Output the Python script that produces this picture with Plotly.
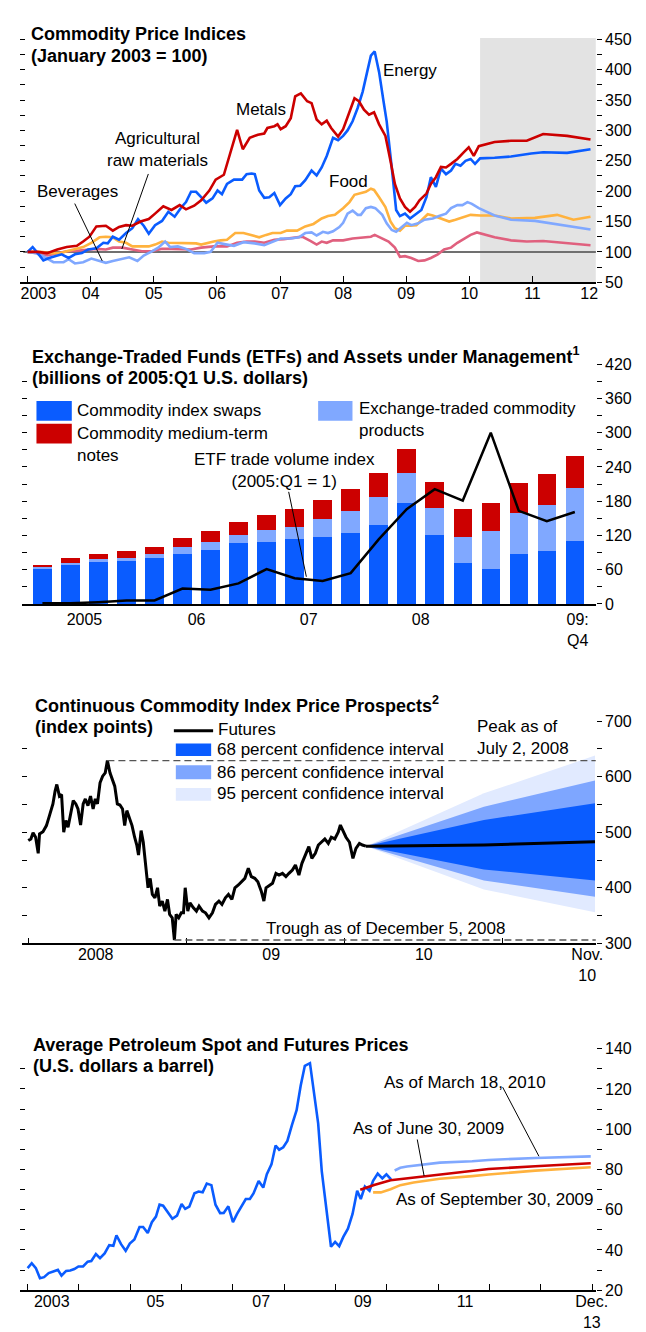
import plotly.graph_objects as go

W, H = 646, 1332
FONT = "Liberation Sans"
BLUE = "#0a5cff"
LBLUE = "#80a8ff"
RED = "#cc0000"
ORANGE = "#ffb23e"
PINK = "#e0607e"
FAN68 = "#0a5cff"
FAN86 = "#7ea6ff"
FAN95 = "#e1eaff"

# ---------------- Panel 1: Commodity price indices ----------------
metals_x = [2003.00,2003.16,2003.31,2003.47,2003.62,2003.78,2003.88,2003.98,2004.09,2004.24,2004.35,2004.45,2004.56,2004.66,2004.79,2004.92,2005.02,2005.15,2005.28,2005.41,2005.51,2005.64,2005.75,2005.88,2005.98,2006.11,2006.32,2006.41,2006.52,2006.65,2006.75,2006.80,2006.91,2006.96,2007.01,2007.09,2007.17,2007.24,2007.33,2007.43,2007.50,2007.58,2007.66,2007.74,2007.81,2007.92,2008.00,2008.10,2008.18,2008.25,2008.33,2008.41,2008.49,2008.57,2008.67,2008.75,2008.82,2008.90,2008.98,2009.06,2009.14,2009.21,2009.32,2009.39,2009.47,2009.55,2009.63,2009.71,2009.81,2009.91,2009.99,2010.07,2010.15,2010.40,2010.66,2010.91,2011.17,2011.55,2011.92]
metals_y = [100,100,98,104,108,110,117,125,142,143,135,141,144,143,150,154,163,175,169,177,170,176,185,201,219,227,301,269,288,293,295,304,307,310,302,307,320,356,361,348,345,318,310,316,304,290,302,331,353,348,334,326,330,310,291,250,212,188,174,166,174,185,196,212,223,240,239,245,253,264,272,258,274,281,283,283,294,291,285]

energy_x = [2003.00,2003.08,2003.16,2003.25,2003.34,2003.44,2003.54,2003.65,2003.75,2003.86,2003.96,2004.09,2004.20,2004.27,2004.35,2004.45,2004.56,2004.66,2004.75,2004.84,2004.92,2005.02,2005.13,2005.23,2005.33,2005.44,2005.51,2005.59,2005.67,2005.75,2005.83,2005.93,2006.01,2006.08,2006.16,2006.27,2006.40,2006.47,2006.55,2006.60,2006.67,2006.75,2006.83,2006.91,2007.00,2007.09,2007.17,2007.24,2007.32,2007.40,2007.50,2007.58,2007.66,2007.74,2007.84,2007.92,2008.00,2008.07,2008.15,2008.23,2008.31,2008.38,2008.44,2008.50,2008.57,2008.64,2008.69,2008.77,2008.84,2008.90,2008.98,2009.06,2009.14,2009.24,2009.32,2009.39,2009.47,2009.55,2009.63,2009.71,2009.78,2009.86,2009.94,2010.02,2010.09,2010.17,2010.40,2010.66,2010.98,2011.17,2011.55,2011.92]
energy_y = [100,108,98,86,90,93,96,90,96,98,104,106,115,114,125,120,131,139,154,143,130,144,151,166,158,174,182,199,199,190,181,188,201,195,212,219,219,228,229,228,201,189,190,197,177,188,195,208,209,218,234,226,239,258,288,284,291,300,315,337,364,396,423,430,396,348,315,239,169,159,163,155,161,169,190,223,207,237,228,234,245,242,250,253,245,254,255,257,262,264,263,269]

food_x = [2003.00,2003.21,2003.36,2003.52,2003.62,2003.75,2003.88,2004.01,2004.14,2004.24,2004.35,2004.45,2004.56,2004.66,2004.79,2004.92,2005.02,2005.13,2005.23,2005.38,2005.54,2005.67,2005.75,2005.85,2005.95,2006.06,2006.16,2006.29,2006.42,2006.54,2006.67,2006.78,2006.88,2007.01,2007.11,2007.27,2007.40,2007.53,2007.66,2007.76,2007.87,2008.00,2008.10,2008.18,2008.25,2008.36,2008.44,2008.49,2008.57,2008.67,2008.75,2008.82,2008.90,2008.98,2009.06,2009.16,2009.27,2009.34,2009.42,2009.55,2009.68,2009.78,2009.91,2010.02,2010.17,2010.40,2010.66,2011.04,2011.39,2011.65,2011.92]
food_y = [100,100,98,98,101,104,108,115,124,125,124,117,115,109,109,109,112,117,115,115,115,114,112,115,117,119,120,131,131,128,124,128,131,131,135,135,142,146,155,159,161,172,182,194,196,199,204,202,190,174,150,139,135,143,143,144,155,162,160,155,150,153,158,161,160,160,155,156,161,153,158]

agri_x = [2003.00,2003.13,2003.26,2003.41,2003.57,2003.65,2003.75,2003.88,2004.01,2004.14,2004.24,2004.35,2004.50,2004.61,2004.74,2004.84,2004.97,2005.07,2005.18,2005.26,2005.38,2005.51,2005.64,2005.80,2005.90,2006.01,2006.16,2006.27,2006.42,2006.60,2006.75,2006.88,2007.01,2007.17,2007.30,2007.40,2007.50,2007.58,2007.68,2007.76,2007.84,2007.94,2008.00,2008.07,2008.15,2008.23,2008.28,2008.36,2008.44,2008.51,2008.62,2008.69,2008.77,2008.84,2008.93,2009.01,2009.08,2009.19,2009.29,2009.42,2009.52,2009.63,2009.71,2009.81,2009.89,2009.97,2010.04,2010.15,2010.40,2010.66,2011.04,2011.55,2011.92]
agri_y = [100,98,92,83,83,88,81,83,89,85,82,85,88,91,85,94,101,107,117,108,109,105,98,98,100,115,112,110,116,114,111,117,122,122,124,131,132,127,133,131,134,141,148,163,168,161,161,172,174,172,161,147,136,133,141,148,144,147,153,155,159,163,172,177,177,182,179,172,160,153,151,143,137]

bev_x = [2003.00,2003.16,2003.31,2003.47,2003.62,2003.78,2003.93,2004.09,2004.24,2004.35,2004.50,2004.66,2004.81,2004.97,2005.13,2005.28,2005.44,2005.59,2005.75,2005.95,2006.16,2006.32,2006.47,2006.60,2006.75,2006.91,2007.06,2007.22,2007.35,2007.48,2007.58,2007.66,2007.74,2007.84,2008.00,2008.15,2008.31,2008.44,2008.50,2008.59,2008.72,2008.82,2008.90,2008.98,2009.08,2009.19,2009.29,2009.39,2009.50,2009.60,2009.71,2009.81,2009.91,2010.02,2010.12,2010.22,2010.40,2010.66,2010.91,2011.17,2011.55,2011.92]
bev_y = [100,98,94,98,101,102,104,105,104,107,107,104,101,101,105,105,104,104,107,109,109,115,117,117,115,120,121,123,125,118,112,117,115,119,119,122,124,125,128,124,117,107,92,93,90,85,86,90,96,104,107,115,121,128,132,129,124,119,117,118,115,111]

p1_year_ticks = [2003, 2004, 2005, 2006, 2007, 2008, 2009, 2010, 2011, 2012]
p1_label_pos = [2003.17, 2004, 2005, 2006, 2007, 2008, 2009, 2010, 2011, 2011.9]
p1_labels = ["2003", "04", "05", "06", "07", "08", "09", "10", "11", "12"]
p1_forecast_start = 2010.17
p1_base = 100

# ---------------- Panel 2: ETFs and AUM ----------------
quarters = list(range(20))
swaps = [61,69,73,75,80,87,94,106,109,114,118,125,139,177,120,71,62,87,92,111]
etp = [3,3,5,6,8,12,14,15,21,21,31,38,48,52,48,47,65,72,81,92]
mtn = [5,8,9,11,12,17,20,23,26,31,33,38,42,43,45,48,50,52,54,57]
etf_volume = [1,1,3,6,6,27,25,36,61,45,40,54,113,166,201,181,300,163,145,161]
p2_label_pos = [1.5, 5.5, 9.5, 13.5, 19.1]
p2_labels = ["2005", "06", "07", "08", "09:<br>Q4"]

# ---------------- Panel 3: CCI price prospects (days since 1 Jan 2008) ----------------
hist_day = [0,6,11,17,23,26,34,42,49,57,62,66,72,77,82,87,92,98,104,110,115,121,127,132,138,144,150,155,160,166,
            172,178,183,189,195,200,206,212,218,223,228,234,240,246,251,255,261,266,272,277,282,287,293,299,304,310,316,322,327,333,
            338,342,348,354,359,363,369,374,382,389,
            395,403,410,418,426,433,441,448,456,463,471,478,486,494,501,509,516,524,531,539,
            545,550,558,565,573,580,588,596,603,611,618,626,633,641,649,656,664,671,679,686,
            694,701,709,717,722,728,735,743,751,758,766,773,781]
hist_val = [485,488,499,491,462,497,501,512,530,551,574,586,565,568,500,521,509,530,557,551,542,513,551,560,548,565,542,560,551,589,
            601,607,629,607,592,583,551,549,542,512,539,527,512,491,477,459,503,482,435,400,417,388,382,400,367,376,358,379,352,346,
            306,352,346,355,355,400,358,373,364,358,
            367,358,355,346,355,370,376,370,382,388,379,400,405,411,417,435,420,417,411,394,
            376,400,405,408,426,423,426,420,426,432,441,423,444,459,474,453,462,477,482,488,
            480,491,488,500,513,503,491,482,453,471,480,477,475]
fan_day = [781, 1054, 1311]
futures_cci = [475, 477, 483]
ci68_hi = [475, 522, 552]
ci68_lo = [475, 433, 413]
ci86_hi = [475, 546, 593]
ci86_lo = [475, 413, 384]
ci95_hi = [475, 570, 638]
ci95_lo = [475, 397, 356]
peak_day, peak_val = 183, 629
trough_day, trough_val = 338, 306
p3_year_ticks = [0, 366, 731, 1096]
p3_label_pos = [156, 562, 915, 1293]
p3_labels = ["2008", "09", "10", "Nov.<br>10"]
p3_range = [-14, 1313]

# ---------------- Panel 4: Petroleum spot and futures ----------------
spot_x = [2003.00,2003.08,2003.16,2003.24,2003.32,2003.41,2003.50,2003.59,2003.66,2003.75,2003.83,2003.91,2003.99,2004.08,2004.17,2004.24,2004.33,2004.41,2004.50,2004.59,2004.67,2004.73,2004.82,2004.91,2004.99,2005.08,2005.18,2005.25,2005.34,2005.42,2005.50,2005.57,2005.64,2005.73,2005.82,2005.91,2006.00,2006.07,2006.15,2006.25,2006.33,2006.41,2006.49,2006.58,2006.66,2006.75,2006.82,2006.91,2007.00,2007.08,2007.16,2007.25,2007.33,2007.40,2007.50,2007.59,2007.66,2007.75,2007.83,2007.90,2007.98,2008.06,2008.15,2008.24,2008.32,2008.40,2008.50,2008.57,2008.66,2008.73,2008.82,2008.91,2008.99,2009.07,2009.15,2009.24,2009.33,2009.42,2009.49,2009.57,2009.66,2009.73,2009.82,2009.91,2009.99,2010.08]
spot_y = [31.0,33.4,31.0,26.0,26.5,28.5,29.3,30.1,27.2,29.6,29.8,30.5,31.8,31.8,34.2,34.5,38.0,35.9,38.3,42.4,42.1,47.3,42.9,39.6,43.2,45.2,51.4,51.4,48.4,53.8,56.6,62.5,62.0,58.7,55.5,57.1,62.8,60.4,61.5,68.2,69.0,68.6,73.0,72.2,62.5,58.3,58.4,61.7,53.8,57.9,61.7,65.3,65.3,68.1,74.3,71.0,77.6,82.5,91.9,89.8,91.0,94.2,102.1,109.4,121.7,131.5,132.8,119.2,102.9,79.2,59.6,41.6,44.0,41.9,46.5,50.6,57.9,69.4,65.3,71.5,69.4,74.3,77.9,75.6,77.6,75.1]
jun09_x = [2009.48, 2009.75, 2010.07, 2010.71, 2011.35, 2011.98, 2012.89, 2013.97]
jun09_y = [69.9, 72.3, 74.6, 76.4, 78.4, 80.2, 81.6, 83.1]
sep09_x = [2009.73, 2009.88, 2010.07, 2010.26, 2010.52, 2011.03, 2011.66, 2011.98, 2012.89, 2013.97]
sep09_y = [68.6, 68.6, 70.2, 72.2, 73.5, 75.4, 76.7, 77.5, 79.4, 81.1]
mar10_x = [2010.15, 2010.26, 2010.39, 2010.71, 2011.03, 2011.66, 2011.98, 2012.89, 2013.97]
mar10_y = [79.5, 80.8, 81.5, 82.4, 83.4, 84.1, 84.7, 85.7, 86.5]
p4_year_ticks = list(range(2003, 2015))
p4_label_pos = [2003.47, 2005.49, 2007.55, 2009.53, 2011.52, 2013.99]
p4_labels = ["2003", "05", "07", "09", "11", "Dec.<br>13"]

# ---------------- layout geometry (pixels) ----------------
def dx(a, b): return [a / W, b / W]
def dy(top, bottom): return [1 - bottom / H, 1 - top / H]

fig = go.Figure()

def line(x, y, color, width, xa, ya):
    fig.add_trace(go.Scatter(x=x, y=y, mode="lines", line=dict(color=color, width=width),
                             xaxis=xa, yaxis=ya, hoverinfo="skip"))

def hook(xa, ya):
    # empty trace so that an overlaying axis (extra ticks / labels) gets drawn
    fig.add_trace(go.Scatter(x=[None], y=[None], mode="lines", xaxis=xa, yaxis=ya, hoverinfo="skip"))

# Panel 1 traces
line(bev_x, bev_y, PINK, 2.6, "x", "y")
line(food_x, food_y, ORANGE, 2.6, "x", "y")
line(agri_x, agri_y, LBLUE, 2.6, "x", "y")
line(energy_x, energy_y, BLUE, 2.6, "x", "y")
line(metals_x, metals_y, RED, 2.6, "x", "y")

# Panel 2 traces
fig.add_trace(go.Bar(x=quarters, y=swaps, marker=dict(color=BLUE, line=dict(width=0)), width=0.66, xaxis="x2", yaxis="y2"))
fig.add_trace(go.Bar(x=quarters, y=etp, marker=dict(color=LBLUE, line=dict(width=0)), width=0.66, xaxis="x2", yaxis="y2"))
fig.add_trace(go.Bar(x=quarters, y=mtn, marker=dict(color=RED, line=dict(width=0)), width=0.66, xaxis="x2", yaxis="y2"))
line(quarters, etf_volume, "black", 2.5, "x2", "y2")

# Panel 3 traces
def band(hi, lo, color):
    fig.add_trace(go.Scatter(x=fan_day + fan_day[::-1], y=hi + lo[::-1], mode="lines", fill="toself",
                             fillcolor=color, line=dict(width=0, color=color), xaxis="x3", yaxis="y3", hoverinfo="skip"))
band(ci95_hi, ci95_lo, FAN95)
band(ci86_hi, ci86_lo, FAN86)
band(ci68_hi, ci68_lo, FAN68)
line(fan_day, futures_cci, "black", 3, "x3", "y3")
line(hist_day, hist_val, "black", 3, "x3", "y3")

# Panel 4 traces
line(spot_x, spot_y, BLUE, 2.6, "x4", "y4")
line(mar10_x, mar10_y, LBLUE, 2.6, "x4", "y4")
line(sep09_x, sep09_y, ORANGE, 2.6, "x4", "y4")
line(jun09_x, jun09_y, RED, 2.6, "x4", "y4")

# hooks for overlay axes
hook("x", "y5"); hook("x2", "y6"); hook("x3", "y7"); hook("x4", "y8")
hook("x5", "y"); hook("x7", "y3"); hook("x8", "y4")

TICKFONT = dict(family=FONT, size=16, color="black")

def right_axis(anchor, rng, dom, major, minor, tick0):
    return dict(anchor=anchor, side="right", range=rng, domain=dom, tick0=tick0, dtick=major,
                ticks="outside", ticklen=5, tickwidth=1.2, tickcolor="black",
                minor=dict(tick0=tick0, dtick=minor, ticks="outside", ticklen=5, tickwidth=1.2, tickcolor="black"),
                showgrid=False, zeroline=False, showline=False, tickfont=TICKFONT, fixedrange=True)

def left_axis(over, anchor, rng, step, tick0):
    return dict(overlaying=over, anchor=anchor, side="left", range=rng, tick0=tick0, dtick=step,
                ticks="inside", ticklen=5, tickwidth=1.2, tickcolor="black", showticklabels=False,
                showgrid=False, zeroline=False, showline=False)

def bottom_axis(anchor, rng, dom, tickvals, ticks=True):
    return dict(anchor=anchor, range=rng, domain=dom, tickmode="array", tickvals=tickvals,
                ticks="inside" if ticks else "", ticklen=6, tickwidth=1.2, tickcolor="black",
                showticklabels=False, showline=True, linecolor="black", linewidth=1.6,
                showgrid=False, zeroline=False, fixedrange=True)

def label_axis(over, anchor, rng, vals, text):
    return dict(overlaying=over, anchor=anchor, range=rng, tickmode="array", tickvals=vals, ticktext=text,
                ticks="", showline=False, showgrid=False, zeroline=False, side="bottom", tickfont=TICKFONT)

p1_xr = [2002.876, 2012.005]
p2_xr = [-0.72, 19.75]
p4_xr = [2002.847, 2014.07]

fig.update_layout(
    width=W, height=H, margin=dict(l=0, r=0, t=0, b=0), autosize=False,
    paper_bgcolor="white", plot_bgcolor="white", showlegend=False, barmode="stack", bargap=0.34,
    font=dict(family=FONT, size=17, color="black"),
    xaxis=bottom_axis("y", p1_xr, dx(12, 599), p1_year_ticks),
    yaxis=right_axis("x", [50, 452], dy(22.4, 269.7), 50, 25, 50),
    xaxis2=dict(bottom_axis("y2", p2_xr, dx(14.5, 599), p2_label_pos, ticks=False),
                showticklabels=True, ticktext=p2_labels, tickfont=TICKFONT),
    yaxis2=right_axis("x2", [0, 420], dy(352.7, 595.5), 60, 30, 0),
    xaxis3=bottom_axis("y3", p3_range, dx(14.5, 599), p3_year_ticks),
    yaxis3=right_axis("x3", [300, 700], dy(714.3, 939.3), 100, 50, 300),
    xaxis4=bottom_axis("y4", p4_xr, dx(12, 599), p4_year_ticks),
    yaxis4=right_axis("x4", [20, 140], dy(1046, 1290.7), 20, 10, 20),
    yaxis5=left_axis("y", "x", [50, 452], 25, 50),
    yaxis6=left_axis("y2", "x2", [0, 420], 30, 0),
    yaxis7=left_axis("y3", "x3", [300, 700], 50, 300),
    yaxis8=left_axis("y4", "x4", [20, 140], 10, 20),
    xaxis5=label_axis("x", "y", p1_xr, p1_label_pos, p1_labels),
    xaxis7=label_axis("x3", "y3", p3_range, p3_label_pos, p3_labels),
    xaxis8=label_axis("x4", "y4", p4_xr, p4_label_pos, p4_labels),
)

shapes = [
    dict(type="rect", xref="x", yref="y domain", x0=p1_forecast_start, x1=p1_xr[1], y0=0, y1=1,
         fillcolor="#e3e3e3", line=dict(width=0), layer="below"),
    dict(type="line", xref="x domain", yref="y", x0=0.006, x1=1, y0=p1_base, y1=p1_base,
         line=dict(color="#707070", width=2), layer="below"),
    dict(type="line", xref="x3", yref="y3", x0=peak_day, x1=p3_range[1], y0=peak_val, y1=peak_val,
         line=dict(color="#555555", width=1.3, dash="7px,4px")),
    dict(type="line", xref="x3", yref="y3", x0=trough_day, x1=p3_range[1], y0=trough_val, y1=trough_val,
         line=dict(color="#555555", width=1.3, dash="7px,4px")),
]

def leader(x0, y0, x1, y1):
    shapes.append(dict(type="line", xref="paper", yref="paper", x0=x0 / W, x1=x1 / W,
                       y0=1 - y0 / H, y1=1 - y1 / H, line=dict(color="black", width=1)))

def swatch(x0, y0, x1, y1, color):
    shapes.append(dict(type="rect", xref="paper", yref="paper", x0=x0 / W, x1=x1 / W,
                       y0=1 - y1 / H, y1=1 - y0 / H, fillcolor=color, line=dict(width=0)))

leader(68, 190, 96, 248)
leader(143, 160, 116, 236)
swatch(29, 390, 65, 410, BLUE)
swatch(29, 413, 65, 433, RED)
swatch(316, 390, 351, 410, LBLUE)
leader(286, 482, 304, 568)
shapes.append(dict(type="line", xref="paper", yref="paper", x0=169 / W, x1=209 / W, y0=1 - 724 / H, y1=1 - 724 / H,
                   line=dict(color="black", width=3)))
swatch(171, 737, 207, 749.5, FAN68)
swatch(171, 759, 207, 773, FAN86)
swatch(171, 782, 207, 795, FAN95)
leader(504, 1085, 541, 1155)
leader(417, 1138, 424, 1175)

annotations = []
def ann(text, x, y, xanchor="left", size=17, bold=False):
    if bold:
        text = "<b>" + text + "</b>"
    annotations.append(dict(text=text, x=x / W, y=1 - y / H, xref="paper", yref="paper",
                            xanchor=xanchor, yanchor="middle", showarrow=False, align=xanchor if xanchor != "center" else "center",
                            font=dict(family=FONT, size=size, color="black")))

ann("Commodity Price Indices", 21, 18, size=18, bold=True)
ann("(January 2003 = 100)", 21, 41, size=18, bold=True)
ann("Metals", 258, 95, "center")
ann("Energy", 410, 55, "center")
ann("Food", 347, 168, "center")
ann("Agricultural<br>raw materials", 152, 135, "center")
ann("Beverages", 71, 178, "center")

ann("Exchange-Traded Funds (ETFs) and Assets under Management<sup>1</sup>", 22, 344, size=18, bold=True)
ann("(billions of 2005:Q1 U.S. dollars)", 22, 367, size=18, bold=True)
ann("Commodity index swaps", 68, 400)
ann("Commodity medium-term<br>notes", 68, 434)
ann("Exchange-traded commodity<br>products", 356, 409)
ann("ETF trade volume index<br>(2005:Q1 = 1)", 282, 460, "center")

ann("Continuous Commodity Index Price Prospects<sup>2</sup>", 25, 697, size=18, bold=True)
ann("(index points)", 25, 720, size=18, bold=True)
ann("Futures", 212, 723)
ann("68 percent confidence interval", 211, 743)
ann("86 percent confidence interval", 211, 766)
ann("95 percent confidence interval", 211, 788)
ann("Peak as of<br>July 2, 2008", 476, 731)
ann("Trough as of December 5, 2008", 385, 924, "center")

ann("Average Petroleum Spot and Futures Prices", 23, 1042, size=18, bold=True)
ann("(U.S. dollars a barrel)", 23, 1064, size=18, bold=True)
ann("As of March 18, 2010", 466, 1080, "center")
ann("As of June 30, 2009", 428, 1127, "center")
ann("As of September 30, 2009", 496, 1199, "center")

fig.update_layout(shapes=shapes, annotations=annotations)
fig.write_html("out.html")
